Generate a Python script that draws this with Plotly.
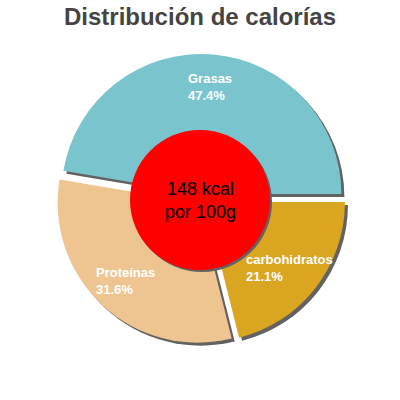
import math
import plotly.graph_objects as go

# Calorie split per 100 g (clockwise from 3 o'clock)
labels = ["carbohidratos", "Proteínas", "Grasas"]
values = [21.1, 31.6, 47.4]
colors = ["#DAA520", "#EEC591", "#7AC5CD"]
kcal_text = "148 kcal<br>por 100g"

W = 400
cx, cy, half = 201, 199, 145   # pie box in pixels (top-left origin)
pull = 0.036
shadow = 3
rad = half / (1 + pull)


def box(dx=0, dy=0):
    x = [(cx - half + dx) / W, (cx + half + dx) / W]
    y = [1 - (cy + half + dy) / W, 1 - (cy - half + dy) / W]
    return dict(x=x, y=y)


common = dict(labels=labels, values=values, sort=False, direction="clockwise",
              rotation=90, pull=pull, textinfo="none")

fig = go.Figure()

# shadow pie behind
fig.add_trace(go.Pie(
    **common, domain=box(shadow, shadow), hoverinfo="skip",
    marker=dict(colors=["#626262"] * len(values), line=dict(width=0)),
))

# coloured slices
fig.add_trace(go.Pie(
    **common, domain=box(),
    marker=dict(colors=colors, line=dict(width=0)),
))

# slice labels, placed at the middle angle of each slice
total = sum(values)
start = 0.0
for lab, v in zip(labels, values):
    mid = -(start + v / 2) / total * 2 * math.pi
    start += v
    d = rad * 0.8
    fig.add_annotation(
        text=f"{lab}<br>{v:.1f}%", showarrow=False, align="left",
        xref="paper", yref="paper", xanchor="center", yanchor="middle",
        x=(cx + d * math.cos(mid)) / W, y=1 - (cy - d * math.sin(mid)) / W,
        font=dict(family="Liberation Sans, Arial", size=13, color="white",
                  weight="bold"),
    )

# centre disc with its shadow
r = 70
fig.add_shape(type="circle", xref="paper", yref="paper",
              x0=(200 - r + 2) / W, x1=(200 + r + 2) / W,
              y0=1 - (200 + r + 2) / W, y1=1 - (200 - r + 2) / W,
              fillcolor="#626262", line=dict(width=0), layer="above")
fig.add_shape(type="circle", xref="paper", yref="paper",
              x0=(200 - r) / W, x1=(200 + r) / W,
              y0=1 - (200 + r) / W, y1=1 - (200 - r) / W,
              fillcolor="#FF0000", line=dict(width=0), layer="above")
fig.add_annotation(text=kcal_text, x=0.5, y=0.5, xref="paper", yref="paper",
                   showarrow=False,
                   font=dict(family="Liberation Sans, Arial", size=18, color="black"))

fig.update_layout(
    width=400, height=400,
    margin=dict(l=0, r=0, t=0, b=0),
    paper_bgcolor="white",
    showlegend=False,
    title=dict(text="<b>Distribución de calorías</b>", x=0.5, xanchor="center",
               y=1 - 17 / W, yanchor="middle",
               font=dict(family="Liberation Sans, Arial", size=24, color="#444444")),
)

# drop the browser's default page margin so the 400x400 figure fills the window
fig.write_html("out.html", config={"displayModeBar": False},
               post_script="document.body.style.margin='0';")
